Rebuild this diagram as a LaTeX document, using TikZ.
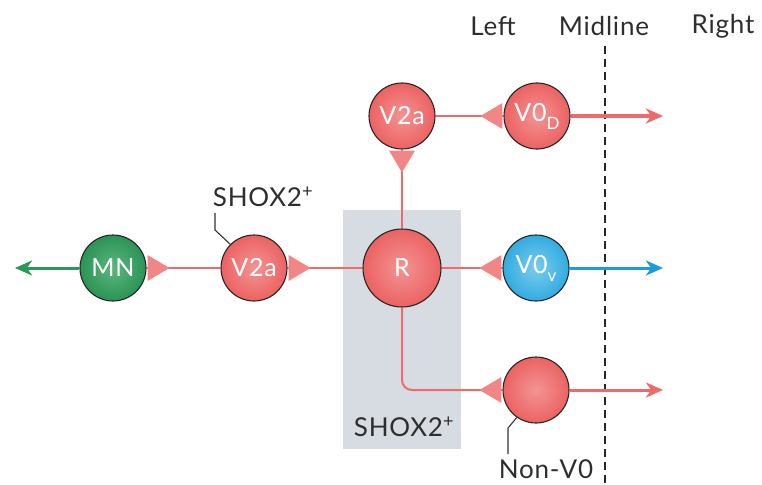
\documentclass[tikz,border=0pt]{standalone}
\usepackage{fontspec}
\setmainfont{Lato}[LetterSpace=3]
\usetikzlibrary{arrows.meta,calc}
\definecolor{nred}{HTML}{EC6262}
\definecolor{nredl}{HTML}{F39494}
\definecolor{ngreen}{HTML}{2B9356}
\definecolor{ngreenl}{HTML}{5CB67E}
\definecolor{nblue}{HTML}{33ABE0}
\definecolor{nbluel}{HTML}{7ACCEE}
\definecolor{lred}{HTML}{EF6A6A}
\definecolor{synred}{HTML}{F28585}
\definecolor{lblue}{HTML}{1E9BDA}
\definecolor{lgreen}{HTML}{2A9957}
\definecolor{boxgrey}{HTML}{D7DCE2}
\newcommand\synW[1]{\fill[syn] ($(#1.west)+(-1,-13)$) -- ++(0,26) -- ++(-22,-13) -- cycle;}
\newcommand\synE[1]{\fill[syn] ($(#1.east)+(1,-13)$) -- ++(0,26) -- ++(22,-13) -- cycle;}
\newcommand\synS[1]{\fill[syn] ($(#1.south)+(-13,1)$) -- ++(26,0) -- ++(-13,22) -- cycle;}
\begin{document}
\begin{tikzpicture}[x=1pt,y=-1pt,
  cell/.style={circle, draw=black!85, line width=1.1pt, minimum size=66pt, inner sep=0pt,
    text=white, font=\fontsize{25}{26}\selectfont},
  redcell/.style={cell, inner color=nredl, outer color=nred},
  greencell/.style={cell, inner color=ngreenl, outer color=ngreen},
  bluecell/.style={cell, inner color=nbluel, outer color=nblue},
  conn/.style={draw=lred, line width=2pt},
  syn/.style={fill=synred, draw=none},
  outarrow/.style={line width=3pt, -{Stealth[length=17pt,width=15pt,inset=5pt]}},
  lab/.style={font=\fontsize{26}{28}\selectfont, text=black!82},
  leader/.style={draw=black!80, line width=1.1pt}
]
\useasboundingbox (0,0) rectangle (762,484);
\fill[boxgrey] (343,210) rectangle (461,449);
\node[lab] (shoxbox) at (404,427) {SHOX2\textsuperscript{+}};

% midline
\coordinate (mtop) at (605,46);
\coordinate (mbot) at (605,484);
\draw[black!85, line width=1.3pt, dash pattern=on 8pt off 5pt] (mtop) -- (mbot);

\node[lab] (left) at (493,26) {Left};
\node[lab] (mid) at (604,26) {Midline};
\node[lab] (right) at (723,26) {Right};

% nodes
\node[greencell] (mn) at (113,268) {MN};
\node[redcell] (v2al) at (254,268) {V2a};
\node[redcell, minimum size=78pt] (r) at (402,268) {R};
\node[bluecell] (v0v) at (536,268) {V0\raisebox{-8pt}{\fontsize{17}{17}\selectfont v}};
\node[redcell] (v2au) at (402,116) {V2a};
\node[redcell] (v0d) at (537,116) {V0\raisebox{-8pt}{\fontsize{17}{17}\selectfont D}};
\node[redcell] (nonv0) at (536,390) {};

% connectors
\draw[conn] (v2al.west) -- (mn.east);
\draw[conn] (r.west) -- (v2al.east);
\draw[conn] (r.north) -- (v2au.south);
\draw[conn] (v2au.east) -- (v0d.west);
\draw[conn] (r.east) -- (v0v.west);
\draw[conn, rounded corners=10pt] (r.south) |- (nonv0.west);

\synE{mn}
\synE{v2al}
\synS{v2au}
\synW{v0d}
\synW{v0v}
\synW{nonv0}

% outputs
\coordinate (em) at (15,268);
\coordinate (ed) at (663,116);
\coordinate (ev) at (663,268);
\coordinate (en) at (663,390);
\draw[outarrow, lgreen] (mn.west) -- (em);
\draw[outarrow, lred] (v0d.east) -- (ed);
\draw[outarrow, lblue] (v0v.east) -- (ev);
\draw[outarrow, lred] (nonv0.east) -- (en);

% labels with leaders
\node[lab] (shoxl) at (263,197) {SHOX2\textsuperscript{+}};
\coordinate (l1a) at (215,213);
\coordinate (l1b) at (215,230);
\draw[leader] (l1a) -- (l1b) -- (v2al.135);
\node[lab] (nonlab) at (546,469) {Non-V0};
\coordinate (l2a) at (508,428);
\coordinate (l2b) at (508,454);
\draw[leader] (nonv0.235) -- (l2a) -- (l2b);
\end{tikzpicture}
\end{document}
